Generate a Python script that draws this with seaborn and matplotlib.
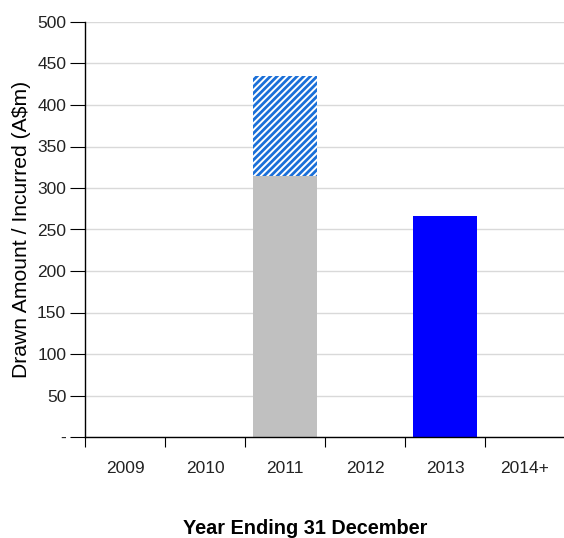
import matplotlib
matplotlib.use("Agg")
import matplotlib.pyplot as plt
from matplotlib.ticker import FixedLocator, FuncFormatter
import seaborn as sns
import pandas as pd

years = ["2009", "2010", "2011", "2012", "2013", "2014+"]
incurred = [0, 0, 315, 0, 0, 0]          # grey portion
incurred_total = [0, 0, 435, 0, 0, 0]    # top of hatched portion
drawn = [0, 0, 0, 0, 266, 0]             # solid blue
y_ticks = [0, 50, 100, 150, 200, 250, 300, 350, 400, 450, 500]

sns.set_theme(style="white")
plt.rcParams["font.family"] = ["Liberation Sans", "DejaVu Sans"]
plt.rcParams["hatch.linewidth"] = 2.0

df = pd.DataFrame({"year": years, "incurred": incurred,
                   "total": incurred_total, "drawn": drawn})

fig = plt.figure(figsize=(5.64, 5.38), dpi=100)
ax = fig.add_axes([85 / 564, 101 / 538, 480 / 564, 415 / 538])

ax.yaxis.grid(True, color="#d9d9d9", linewidth=1.0, zorder=0)
ax.set_axisbelow(True)

sns.barplot(data=df, x="year", y="total", ax=ax, order=years,
            facecolor="white", edgecolor="#1a6fd8", hatch="/////",
            linewidth=0, width=0.8, errorbar=None)
sns.barplot(data=df, x="year", y="incurred", ax=ax, order=years,
            color="#c0c0c0", saturation=1, linewidth=0, width=0.8,
            errorbar=None)
sns.barplot(data=df, x="year", y="drawn", ax=ax, order=years,
            color="#0000ff", saturation=1, linewidth=0, width=0.8,
            errorbar=None)

ax.set_xlim(-0.5, 5.5)
ax.set_ylim(0, 500)
ax.yaxis.set_major_locator(FixedLocator(y_ticks))
ax.yaxis.set_major_formatter(FuncFormatter(lambda v, p: "-" if v == 0 else f"{int(v)}"))
ax.tick_params(axis="y", direction="out", length=11, width=0.8, color="black",
               pad=2.5, labelsize=12.5, labelcolor="#222222", left=True)

# boundary ticks on the x axis, labels centred in each category
ax.xaxis.set_major_locator(FixedLocator([i - 0.5 for i in range(len(years) + 1)]))
ax.xaxis.set_minor_locator(FixedLocator(list(range(len(years)))))
ax.set_xticklabels([])
ax.set_xticklabels(years, minor=True)
ax.tick_params(axis="x", which="major", direction="out", length=7, width=0.8,
               color="black", bottom=True)
ax.tick_params(axis="x", which="minor", length=0, pad=17, labelsize=12.5,
               labelcolor="#222222")

for side in ("top", "right"):
    ax.spines[side].set_visible(False)
for side in ("left", "bottom"):
    ax.spines[side].set_color("black")
    ax.spines[side].set_linewidth(1.0)

ax.set_ylabel("Drawn Amount / Incurred (A$m)", fontsize=15.2, color="black")
ax.yaxis.set_label_coords(-0.112, 0.5)
ax.set_xlabel("")
fig.text(305 / 564, 1 - 528 / 538, "Year Ending 31 December", ha="center",
         va="center", fontsize=14.3, fontweight="bold", color="black")

fig.savefig("out.png", dpi=100)
